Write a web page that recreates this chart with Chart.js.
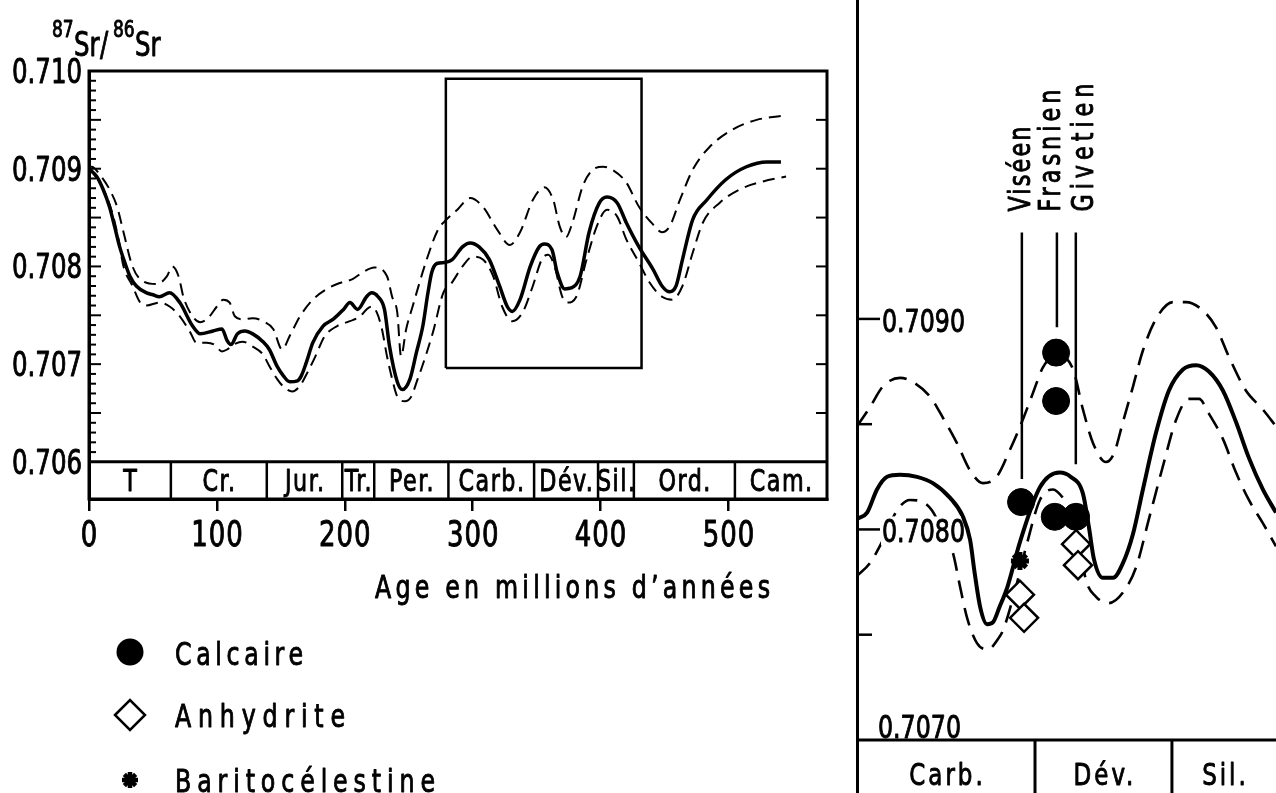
<!DOCTYPE html>
<html>
<head>
<meta charset="utf-8">
<script src="https://cdn.jsdelivr.net/npm/chart.js@4.4.1/dist/chart.umd.min.js"></script>
<style>
  html, body { margin: 0; padding: 0; background: #fff; }
  #wrap { position: relative; width: 1276px; height: 793px; overflow: hidden; background: #fff; }
  #left-chart { position: absolute; left: 0; top: 0; }
  #right-chart { position: absolute; left: 840px; top: 0; }
</style>
</head>
<body>
<div id="wrap">
  <canvas id="left-chart" width="850" height="793"></canvas>
  <canvas id="right-chart" width="436" height="793"></canvas>
</div>
<script>
// ---- whole curve, 0-577 Ma ----
const solidAge = [0,6,11,16,20,24,28,32,37,45,50,55,63,71,81,87,97,104,108,111,116,122,128,136,141,147,152,157,163,166,170,175,183,191,199,204,210,217,221,226,231,235,241,245,251,256,261,265,268,272,278,284,292,298,305,313,321,327,331,337,345,352,356,362,366,372,377,384,391,399,405,413,420,430,441,448,454,459,464,472,483,498,514,530,541];
const solidSr = [0.70900,0.70892,0.70879,0.70861,0.70841,0.70820,0.70804,0.70790,0.70780,0.70773,0.70771,0.70769,0.70773,0.70763,0.70739,0.70731,0.70734,0.70736,0.70724,0.70720,0.70731,0.70734,0.70731,0.70723,0.70715,0.70698,0.70688,0.70682,0.70683,0.70688,0.70702,0.70722,0.70739,0.70746,0.70756,0.70763,0.70756,0.70769,0.70773,0.70769,0.70756,0.70718,0.70682,0.70674,0.70685,0.70712,0.70739,0.70773,0.70794,0.70803,0.70804,0.70807,0.70820,0.70824,0.70820,0.70807,0.70780,0.70759,0.70754,0.70766,0.70800,0.70820,0.70823,0.70817,0.70794,0.70777,0.70778,0.70790,0.70835,0.70865,0.70871,0.70865,0.70845,0.70820,0.70797,0.70780,0.70774,0.70780,0.70807,0.70848,0.70868,0.70889,0.70902,0.70907,0.70907];

const upperAge = [0,2,9,16,22,27,34,42,53,61,65,70,74,81,87,93,100,105,110,114,120,128,136,144,151,157,165,175,186,196,206,214,223,233,237,241,244,248,253,264,273,278,288,298,308,319,329,337,347,356,363,368,373,378,386,394,402,409,420,430,441,448,454,462,472,485,503,522,541];
const upperSr = [0.70900,0.70902,0.70893,0.70879,0.70861,0.70835,0.70800,0.70785,0.70782,0.70790,0.70800,0.70790,0.70768,0.70749,0.70743,0.70747,0.70759,0.70766,0.70763,0.70749,0.70746,0.70747,0.70744,0.70736,0.70715,0.70729,0.70749,0.70766,0.70777,0.70783,0.70787,0.70794,0.70799,0.70790,0.70769,0.70753,0.70708,0.70736,0.70759,0.70807,0.70838,0.70846,0.70858,0.70870,0.70861,0.70838,0.70822,0.70835,0.70868,0.70881,0.70868,0.70841,0.70830,0.70845,0.70882,0.70899,0.70902,0.70899,0.70886,0.70861,0.70843,0.70835,0.70841,0.70868,0.70899,0.70922,0.70940,0.70950,0.70954];

const lowerAge = [0,3,14,19,23,27,34,40,45,55,63,71,79,84,92,98,104,108,113,120,128,136,141,147,152,159,165,171,177,184,194,204,212,217,221,225,229,233,237,241,247,252,257,259,269,277,284,292,300,308,316,323,331,339,347,354,359,364,370,374,381,389,397,405,413,420,430,438,448,456,464,472,480,493,509,527,545];
const lowerSr = [0.70900,0.70896,0.70871,0.70851,0.70828,0.70800,0.70780,0.70763,0.70760,0.70763,0.70759,0.70749,0.70733,0.70722,0.70722,0.70720,0.70713,0.70715,0.70720,0.70723,0.70718,0.70710,0.70698,0.70685,0.70677,0.70672,0.70678,0.70692,0.70708,0.70728,0.70739,0.70744,0.70749,0.70756,0.70759,0.70753,0.70736,0.70708,0.70685,0.70667,0.70662,0.70667,0.70685,0.70692,0.70733,0.70773,0.70784,0.70800,0.70810,0.70807,0.70790,0.70759,0.70744,0.70753,0.70780,0.70807,0.70812,0.70800,0.70769,0.70763,0.70769,0.70807,0.70841,0.70858,0.70851,0.70828,0.70804,0.70784,0.70769,0.70766,0.70780,0.70814,0.70845,0.70865,0.70879,0.70887,0.70892];

const periodNames = ["T", "Cr.", "Jur.", "Tr.", "Per.", "Carb.", "Dév.", "Sil.", "Ord.", "Cam."];
const periodEdges = [0, 64, 139, 198, 223, 281, 348, 398, 426, 505, 577];
const xTicks = [0, 100, 200, 300, 400, 500];
const yTicks = [0.706, 0.707, 0.708, 0.709, 0.710];
const zoomAge = [279, 432];
const zoomSr = [0.70696, 0.70992];

// ---- detail panel, Carboniferous to Silurian ----
const detailSolidAge = [279,282.7,286.3,290,294.7,300.9,306.7,313,317.7,320.3,322,324,326.5,328.7,331,334,338.5,345.8,353,357,361.5,363.7,365.5,368.8,372.5,376.1,379.8,383.4,388.2,392.9,398,402.8,407.5,412.6,417.4,422.1,427.2,432];
const detailSolidSr = [0.70805,0.70808,0.70819,0.70825,0.70826,0.70825,0.70822,0.70815,0.70806,0.70795,0.70779,0.70763,0.70755,0.70756,0.70763,0.70773,0.70794,0.70820,0.70827,0.70825,0.70817,0.70801,0.70786,0.70777,0.70777,0.70784,0.70798,0.70819,0.70846,0.70866,0.70876,0.70878,0.70875,0.70866,0.70851,0.70834,0.70819,0.70808];

const detailUpperAge = [279,283.7,288.5,294.7,299.4,305.7,310.4,315.5,320.3,325,330,334.9,339.2,343.3,346.9,352,357.9,361.5,365.2,369.9,372.8,376.1,379.8,383.4,388.2,394.4,399.1,405.3,410.1,414.8,421,427.2,432];
const detailUpperSr = [0.70849,0.70858,0.70868,0.70872,0.70870,0.70863,0.70853,0.70841,0.70828,0.70822,0.70825,0.70838,0.70851,0.70865,0.70877,0.70883,0.70876,0.70857,0.70841,0.70832,0.70836,0.70851,0.70868,0.70885,0.70900,0.70908,0.70908,0.70904,0.70896,0.70882,0.70866,0.70857,0.70849];

const detailLowerAge = [279,283.7,288.5,293.6,298.3,303.1,306.4,310,314,316.6,319.2,322.8,326.8,330.5,332.3,336.7,341,345.8,350.6,354.2,358.6,362.6,366.3,371,376.1,380.9,385.6,390.7,395.5,400.2,403.9,407.5,412.6,417.4,422.1,427.2,432];
const detailLowerSr = [0.70778,0.70784,0.70795,0.70809,0.70814,0.70813,0.70809,0.70800,0.70789,0.70773,0.70758,0.70746,0.70743,0.70748,0.70752,0.70771,0.70793,0.70814,0.70819,0.70815,0.70805,0.70776,0.70768,0.70765,0.70770,0.70782,0.70805,0.70830,0.70852,0.70862,0.70862,0.70855,0.70843,0.70827,0.70814,0.70803,0.70792];

const calcaireAge = [338.9, 351.7, 351.7, 351.2, 359.0];
const calcaireSr = [0.70813, 0.70884, 0.70861, 0.70806, 0.70806];
const anhydriteAge = [338.5, 340.0, 359.0, 359.7];
const anhydriteSr = [0.70769, 0.70758, 0.70793, 0.70783];
const baritoAge = [338.5];
const baritoSr = [0.70785];

const stageNames = ["Viséen", "Frasnien", "Givetien"];
const stageAge = [339.2, 352.0, 358.9];
const stageTopSr = [0.70941, 0.70941, 0.70941];
const stageBottomSr = [0.70824, 0.70896, 0.70831];

const detailPeriods = ["Carb.", "Dév.", "Sil."];
const detailEdges = [279, 344, 394, 432];
const detailTicks = [0.7070, 0.7080, 0.7090];

const legendLabels = ["Calcaire", "Anhydrite", "Baritocélestine"];

// ---------------------------------------------------------------
const FONT = "'DejaVu Sans Condensed', 'DejaVu Sans', sans-serif";
Chart.defaults.font.family = FONT;
Chart.defaults.color = "#000";

// the lettering of the figure is a narrow stencil face: squeeze the
// installed font so "0.707" at 33px is about 70px wide
const SX = (() => {
  const c = document.createElement("canvas").getContext("2d");
  c.font = "33px " + FONT;
  return Math.min(1, 70 / c.measureText("0.707").width);
})();

const pts = (xs, ys) => xs.map((x, i) => ({ x: x, y: ys[i] }));

function seg(ctx, x1, y1, x2, y2) {
  ctx.beginPath();
  ctx.moveTo(x1, y1);
  ctx.lineTo(x2, y2);
  ctx.stroke();
}

// narrow text; opts: align, width (target visible width), spacing (px), rotate, baseline
function label(ctx, str, x, y, size, opts) {
  opts = opts || {};
  ctx.save();
  ctx.font = size + "px " + FONT;
  ctx.textBaseline = opts.baseline || "alphabetic";
  ctx.textAlign = "left";
  const has = "letterSpacing" in ctx;
  const natural = ctx.measureText(str).width * SX;
  let sp = 0;
  if (opts.width) sp = Math.max(0, (opts.width - natural) / Math.max(1, str.length - 1));
  else if (opts.spacing) sp = opts.spacing;
  if (!has) sp = 0;
  if (has) ctx.letterSpacing = (sp / SX) + "px";
  const w = natural + sp * (str.length - 1);
  let off = 0;
  if (opts.align === "center") off = -w / 2;
  else if (opts.align === "right") off = -w;
  ctx.translate(x, y);
  if (opts.rotate) ctx.rotate(opts.rotate);
  ctx.translate(off, 0);
  ctx.scale(SX, 1);
  ctx.fillStyle = "#000";
  ctx.strokeStyle = "#000";
  ctx.lineWidth = 0.9;
  ctx.lineJoin = "round";
  ctx.fillText(str, 0, 0);
  ctx.strokeText(str, 0, 0);
  ctx.restore();
  return w;
}

function drawMarker(ctx, kind, cx, cy) {
  ctx.save();
  ctx.strokeStyle = "#000";
  ctx.fillStyle = "#000";
  if (kind === 0) {
    ctx.beginPath();
    ctx.arc(cx, cy, 13.5, 0, Math.PI * 2);
    ctx.fill();
  } else if (kind === 1) {
    const r = 15;
    ctx.beginPath();
    ctx.moveTo(cx - r, cy);
    ctx.lineTo(cx, cy - r);
    ctx.lineTo(cx + r, cy);
    ctx.lineTo(cx, cy + r);
    ctx.closePath();
    ctx.fillStyle = "#fff";
    ctx.fill();
    ctx.lineWidth = 2.5;
    ctx.stroke();
  } else {
    ctx.lineWidth = 4.5;
    const r = 8;
    for (let k = 0; k < 4; k++) {
      const a = k * Math.PI / 4;
      seg(ctx, cx - r * Math.cos(a), cy - r * Math.sin(a), cx + r * Math.cos(a), cy + r * Math.sin(a));
    }
    ctx.beginPath();
    ctx.arc(cx, cy, 4.5, 0, Math.PI * 2);
    ctx.fill();
  }
  ctx.restore();
}

const leftDecor = {
  id: "leftDecor",
  afterDraw(chart) {
    const { ctx, chartArea: a, scales: { x, y } } = chart;
    ctx.save();
    ctx.strokeStyle = "#000";
    ctx.fillStyle = "#000";
    ctx.lineWidth = 3;
    ctx.strokeRect(a.left, a.top, a.right - a.left, a.bottom - a.top);

    // inward ticks, left (every 0.0001) and right (every 0.0005)
    ctx.lineWidth = 2;
    for (let i = 1; i < 40; i++) {
      const py = y.getPixelForValue(0.706 + i * 0.0001);
      seg(ctx, a.left, py, a.left + (i % 5 === 0 ? 12 : 7), py);
    }
    for (let i = 1; i < 8; i++) {
      const py = y.getPixelForValue(0.706 + i * 0.0005);
      seg(ctx, a.right - 11, py, a.right, py);
    }

    // tick labels
    yTicks.forEach(v => label(ctx, v.toFixed(3), a.left - 7, y.getPixelForValue(v) + 12, 33, { align: "right" }));
    xTicks.forEach(v => label(ctx, String(v), x.getPixelForValue(v), a.bottom + 47, 35, { align: "center", spacing: 1 }));

    // stratigraphic band
    const bandTop = y.getPixelForValue(0.706);
    ctx.lineWidth = 3;
    seg(ctx, a.left, bandTop, a.right, bandTop);
    ctx.lineWidth = 2.5;
    periodEdges.slice(1, -1).forEach(e => {
      const px = x.getPixelForValue(e);
      seg(ctx, px, bandTop, px, a.bottom);
    });
    periodNames.forEach((n, i) => {
      const cx = (x.getPixelForValue(periodEdges[i]) + x.getPixelForValue(periodEdges[i + 1])) / 2;
      label(ctx, n, cx, bandTop + 29, 30, { align: "center", spacing: 1.5 });
    });

    // y title 87Sr/86Sr
    label(ctx, "87", 52, 37, 23);
    label(ctx, "Sr", 74, 56, 33);
    label(ctx, "/", 100, 56, 33);
    label(ctx, "86", 113, 37, 23);
    label(ctx, "Sr", 135, 56, 33);

    // x title
    label(ctx, "Age en millions d\u2019années", 375, 598, 32, { width: 395 });

    // legend
    const rows = [652, 715, 780];
    const base = [665, 727, 792];
    const widths = [128, 170, 260];
    legendLabels.forEach((t, i) => {
      drawMarker(ctx, i, 130, rows[i]);
      label(ctx, t, 175, base[i], 32, { width: widths[i] });
    });
    ctx.restore();
  }
};

const rightDecor = {
  id: "rightDecor",
  afterDraw(chart) {
    const { ctx, chartArea: a, scales: { x, y } } = chart;
    ctx.save();
    ctx.strokeStyle = "#000";
    ctx.fillStyle = "#000";

    // inward ticks
    ctx.lineWidth = 2.5;
    [0.7075, 0.7080, 0.7085, 0.7090].forEach((v, i) => {
      const py = y.getPixelForValue(v);
      seg(ctx, a.left, py, a.left + (i % 2 ? 23 : 15), py);
    });

    // tick labels, on a white patch where the curves pass behind them
    detailTicks.forEach((v, i) => {
      const py = y.getPixelForValue(v);
      const base = i === 0 ? py - 2 : py + 13;
      ctx.fillStyle = "#fff";
      if (i > 0) ctx.fillRect(a.left + 24, base - 26, 80, 29);
      ctx.fillStyle = "#000";
      label(ctx, v.toFixed(4), a.left + (i === 0 ? 21 : 25), base, 32);
    });

    // band
    const bandTop = y.getPixelForValue(0.7070);
    ctx.lineWidth = 3;
    seg(ctx, a.left, bandTop, a.right, bandTop);
    detailEdges.slice(1, -1).forEach(e => {
      const px = x.getPixelForValue(e);
      seg(ctx, px, bandTop, px, a.bottom);
    });
    detailPeriods.forEach((n, i) => {
      const cx = (x.getPixelForValue(detailEdges[i]) + x.getPixelForValue(detailEdges[i + 1])) / 2;
      label(ctx, n, cx, bandTop + 45, 31, { align: "center", spacing: 3 });
    });

    // stage names, written upwards
    const shift = [0, -5, 9];
    const widths = [85, 122, 128];
    stageNames.forEach((n, i) => {
      label(ctx, n, x.getPixelForValue(stageAge[i]) + shift[i], y.getPixelForValue(stageTopSr[i]) - 21, 30,
        { rotate: -Math.PI / 2, baseline: "middle", width: widths[i] });
    });
    ctx.restore();
  }
};

const curve = (data, width, dash) => ({
  data: data,
  borderColor: "#000",
  borderWidth: width,
  borderDash: dash || [],
  pointRadius: 0,
  fill: false,
  cubicInterpolationMode: "monotone"
});

// ---- left panel ----
new Chart(document.getElementById("left-chart"), {
  type: "line",
  data: {
    datasets: [
      {
        data: pts([zoomAge[0], zoomAge[0], zoomAge[1], zoomAge[1], zoomAge[0]],
                  [zoomSr[0], zoomSr[1], zoomSr[1], zoomSr[0], zoomSr[0]]),
        borderColor: "#000", borderWidth: 2.5, pointRadius: 0, tension: 0, borderJoinStyle: "miter"
      },
      curve(pts(solidAge, solidSr), 3.5),
      curve(pts(upperAge, upperSr), 2, [12, 7]),
      curve(pts(lowerAge, lowerSr), 2, [12, 7])
    ]
  },
  options: {
    responsive: false,
    animation: false,
    events: [],
    layout: { autoPadding: false, padding: { top: 71, right: 23, bottom: 234, left: 0 } },
    plugins: { legend: { display: false }, tooltip: { enabled: false } },
    scales: {
      x: {
        type: "linear", min: 0, max: 577,
        afterBuildTicks: s => { s.ticks = xTicks.map(v => ({ value: v })); },
        afterFit: s => { s.height = 60; s.paddingLeft = 0; s.paddingRight = 0; },
        grid: { drawOnChartArea: false, drawTicks: true, tickLength: 12, color: "#000", lineWidth: 2.5 },
        border: { display: true, color: "#000", width: 3 },
        ticks: { display: false }
      },
      y: {
        type: "linear", min: 0.70562, max: 0.710,
        afterBuildTicks: s => { s.ticks = yTicks.map(v => ({ value: v })); },
        afterFit: s => { s.width = 89; s.paddingTop = 0; s.paddingBottom = 0; },
        grid: { display: false, drawTicks: false },
        border: { display: true, color: "#000", width: 3 },
        ticks: { display: false }
      }
    }
  },
  plugins: [leftDecor]
});

// ---- right (detail) panel ----
const stageSets = stageNames.map((n, i) => ({
  data: pts([stageAge[i], stageAge[i]], [stageTopSr[i], stageBottomSr[i]]),
  borderColor: "#000", borderWidth: 2.5, pointRadius: 0, tension: 0
}));

new Chart(document.getElementById("right-chart"), {
  type: "line",
  data: {
    datasets: [
      {
        label: "Anhydrite", data: pts(anhydriteAge, anhydriteSr), showLine: false,
        pointStyle: "rectRot", pointRadius: 14, pointBackgroundColor: "#fff",
        pointBorderColor: "#000", pointBorderWidth: 2.5
      },
      {
        label: "Baritocélestine", data: pts(baritoAge, baritoSr), showLine: false,
        pointStyle: "star", pointRadius: 9, pointBorderColor: "#000", pointBorderWidth: 5
      },
      {
        label: "Calcaire", data: pts(calcaireAge, calcaireSr), showLine: false,
        pointStyle: "circle", pointRadius: 13.5, pointBackgroundColor: "#000",
        pointBorderColor: "#000", pointBorderWidth: 1
      },
      ...stageSets,
      curve(pts(detailSolidAge, detailSolidSr), 4),
      curve(pts(detailUpperAge, detailUpperSr), 2.6, [18, 10]),
      curve(pts(detailLowerAge, detailLowerSr), 2.6, [18, 10])
    ]
  },
  options: {
    responsive: false,
    animation: false,
    events: [],
    layout: { autoPadding: false, padding: 0 },
    plugins: { legend: { display: false }, tooltip: { enabled: false } },
    scales: {
      x: { type: "linear", min: 279, max: 432, display: false },
      y: {
        type: "linear", min: 0.706748, max: 0.710515,
        afterBuildTicks: s => { s.ticks = detailTicks.map(v => ({ value: v })); },
        afterFit: s => { s.width = 17; s.paddingTop = 0; s.paddingBottom = 0; },
        grid: { display: false, drawTicks: false },
        border: { display: true, color: "#000", width: 3 },
        ticks: { display: false }
      }
    }
  },
  plugins: [rightDecor]
});
</script>
</body>
</html>
